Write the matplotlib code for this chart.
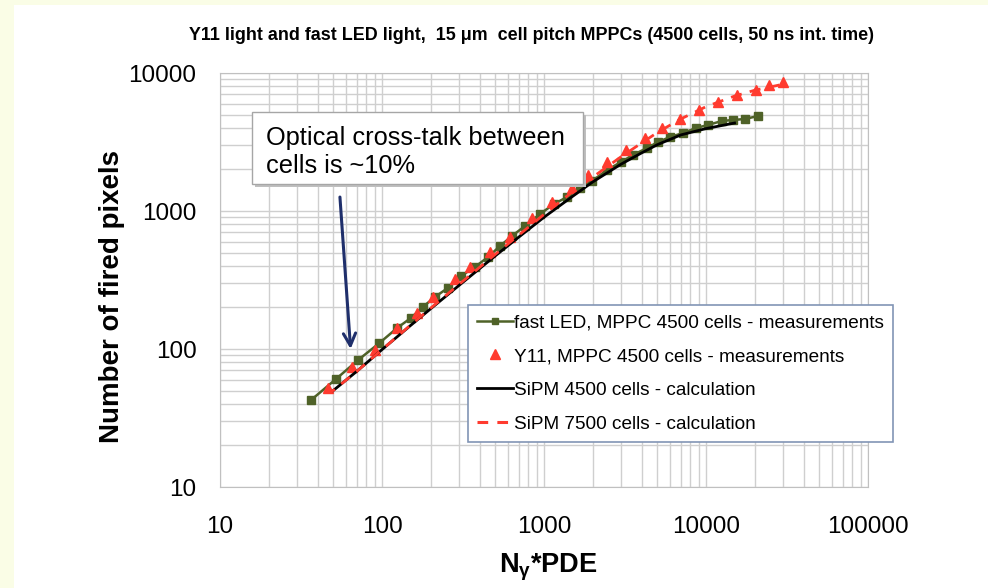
import matplotlib.pyplot as plt
from matplotlib.lines import Line2D
from matplotlib.patches import Rectangle
from matplotlib.ticker import FixedLocator, FixedFormatter, NullFormatter, LogLocator

plt.rcParams['font.family'] = ['Liberation Sans', 'DejaVu Sans']
plt.rcParams['mathtext.fontset'] = 'custom'
plt.rcParams['mathtext.rm'] = 'Liberation Sans:bold'
plt.rcParams['mathtext.it'] = 'Liberation Sans:bold'

# ---- data ----
led_x = [36.5, 52, 71, 96, 124, 151, 179, 212, 255, 307, 375, 451, 535, 634, 763, 945,
         1153, 1387, 1668, 1978, 2450, 2986, 3542, 4322, 5058, 5995, 7210, 8670,
         10280, 12550, 14680, 17400, 20940]
led_y = [42.7, 60.6, 83, 110, 142, 168, 202, 238, 277, 338, 393, 464, 557, 659, 778, 951,
         1124, 1262, 1468, 1648, 1982, 2265, 2547, 2861, 3162, 3436, 3674, 3993,
         4200, 4493, 4564, 4645, 4877]

y11_x = [46.4, 65.3, 90.6, 124, 164, 206, 282, 349, 465, 617, 843, 1120, 1490, 1870,
         2450, 3210, 4200, 5350, 6910, 9060, 11860, 15530, 20370, 24490, 29860]
y11_y = [52, 74, 98, 142, 182, 238, 321, 393, 505, 648, 889, 1162, 1468, 1824,
         2265, 2768, 3381, 3993, 4645, 5395, 6166, 6934, 7535, 8185, 8605]

calc4500_x = [50, 70, 100, 150, 200, 300, 500, 700, 1000, 1500, 2000, 3000, 4000,
              5000, 7000, 10000, 15000]
calc4500_y = [50, 69, 99, 148, 196, 290, 473, 648, 901, 1276, 1625, 2190, 2634,
              3022, 3560, 3955, 4340]

calc7500_x = [44, 50, 70, 100, 150, 200, 300, 500, 700, 1000, 1500, 2000, 3000,
              5000, 7000, 10000, 15000, 20000, 30000]
calc7500_y = [49, 50, 69, 99, 149, 198, 295, 485, 670, 945, 1380, 1760, 2480,
              3700, 4650, 5700, 6800, 7500, 8300]

ticks = [10, 100, 1000, 10000, 100000]
tick_labels = ['10', '100', '1000', '10000', '100000']

# ---- figure ----
fig = plt.figure(figsize=(9.88, 5.88), dpi=100, facecolor='#fafde6')
fig.patches.append(Rectangle((14 / 988, 0), 1, 1 - 5 / 588, transform=fig.transFigure,
                             facecolor='white', edgecolor='none', zorder=-10))

ax = fig.add_axes([220 / 988, 1 - 487 / 588, 648 / 988, 414 / 588])
ax.set_xscale('log')
ax.set_yscale('log')
ax.set_xlim(10, 100000)
ax.set_ylim(10, 10000)

ax.plot(led_x, led_y, color='#4f6228', lw=1.8, marker='s', ms=5.5, zorder=3)
ax.plot(y11_x, y11_y, ls='none', marker='^', ms=7, color='#ff3b2f', mec='#ff3b2f', zorder=4)
ax.plot(calc4500_x, calc4500_y, color='black', lw=2.0, zorder=5)
ax.plot(calc7500_x, calc7500_y, color='#ff3b2f', lw=2.0, ls=(0, (4, 3)), zorder=6)

# grid / axes look (excel style)
ax.xaxis.set_major_locator(FixedLocator(ticks))
ax.xaxis.set_major_formatter(FixedFormatter(tick_labels))
ax.yaxis.set_major_locator(FixedLocator(ticks[:4]))
ax.yaxis.set_major_formatter(FixedFormatter(tick_labels[:4]))
for a in (ax.xaxis, ax.yaxis):
    a.set_minor_locator(LogLocator(base=10, subs=range(2, 10)))
    a.set_minor_formatter(NullFormatter())
ax.grid(True, which='both', color='#cfcfcf', lw=1.0)
ax.set_axisbelow(True)
ax.tick_params(which='both', length=0, labelsize=17.5, colors='black')
ax.tick_params(axis='y', pad=17)
ax.tick_params(axis='x', pad=21)
for s in ax.spines.values():
    s.set_color('#c0c0c0')

fig.text(531 / 988, 1 - 35 / 588,
         'Y11 light and fast LED light,  15 \u03bcm  cell pitch MPPCs (4500 cells, 50 ns int. time)',
         fontsize=12.9, fontweight='bold', ha='center', va='center')
ax.set_ylabel('Number of fired pixels', fontsize=20, fontweight='bold')
ax.yaxis.set_label_coords(-0.147, 0.46)
ax.set_xlabel(r'N$_\gamma$*PDE', fontsize=19.5, fontweight='bold')
ax.xaxis.set_label_coords(0.506, -0.157)

# legend
handles = [
    Line2D([], [], color='#4f6228', lw=1.8, marker='s', ms=4),
    Line2D([], [], ls='none', marker='^', ms=7, color='#ff3b2f'),
    Line2D([], [], color='black', lw=2.0),
    Line2D([], [], color='#ff3b2f', lw=2.2, ls=(0, (3.5, 3))),
]
labels = ['fast LED, MPPC 4500 cells - measurements',
          'Y11, MPPC 4500 cells - measurements',
          'SiPM 4500 cells - calculation',
          'SiPM 7500 cells - calculation']
leg = ax.legend(handles, labels, loc='upper left', bbox_to_anchor=(468 / 988, 1 - 305 / 588),
                bbox_transform=fig.transFigure, borderaxespad=0, fontsize=13.7,
                frameon=True, fancybox=False, edgecolor='#8195b5', framealpha=1,
                handlelength=1.9, handletextpad=0.05, labelspacing=0.87,
                borderpad=0.47, numpoints=1)
leg.get_frame().set_linewidth(1.2)
leg.set_zorder(10)

# text box with arrow
fig.patches.append(Rectangle((255 / 988, 1 - 187 / 588), 331 / 988, 72 / 588,
                             transform=fig.transFigure, facecolor='#bfbfbf',
                             edgecolor='none', zorder=8))
fig.patches.append(Rectangle((252 / 988, 1 - 184 / 588), 331 / 988, 72 / 588,
                             transform=fig.transFigure, facecolor='white',
                             edgecolor='#a6a6a6', lw=1.0, zorder=9))
fig.text(266 / 988, 1 - 152 / 588, 'Optical cross-talk between\ncells is ~10%',
         fontsize=18.3, va='center', ha='left', linespacing=1.2, zorder=11)

ax.annotate('', xy=(64, 100), xytext=(55, 1262),
            arrowprops=dict(arrowstyle='->', color='#1f2f6b', lw=2.2,
                            mutation_scale=22, shrinkA=0, shrinkB=0), zorder=7)

fig.savefig('out.png', dpi=100, facecolor=fig.get_facecolor())
